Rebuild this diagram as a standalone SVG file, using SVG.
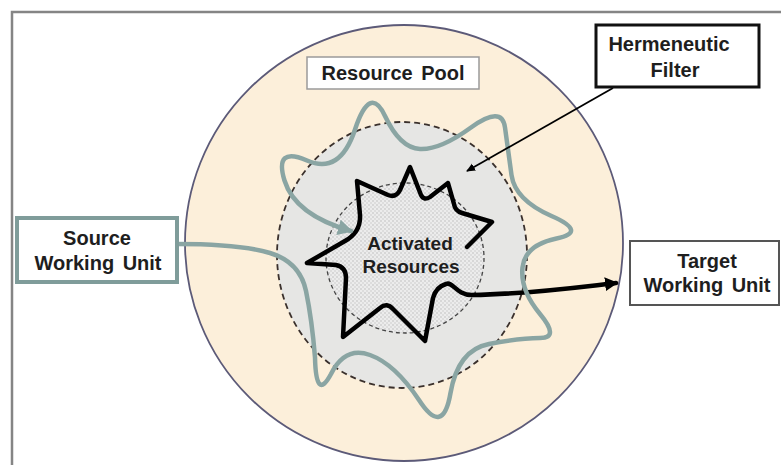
<svg xmlns="http://www.w3.org/2000/svg" width="781" height="465" viewBox="0 0 781 465">
  <defs>
    <pattern id="dots" width="4" height="4" patternUnits="userSpaceOnUse">
      <rect width="4" height="4" fill="#ececec"/>
      <circle cx="1" cy="1" r="0.7" fill="#b4b4b4"/>
      <circle cx="3" cy="3" r="0.7" fill="#c4c4c4"/>
    </pattern>
    <marker id="grayHead" markerWidth="18" markerHeight="16" refX="13" refY="8" orient="auto" markerUnits="userSpaceOnUse">
      <path d="M0,0 L15,8 L0,16 Z" fill="#8aa5a3"/>
    </marker>
    <marker id="blackHead" markerWidth="14" markerHeight="14" refX="11" refY="7" orient="auto" markerUnits="userSpaceOnUse">
      <path d="M0,0 L13,7 L0,14 Z" fill="#000"/>
    </marker>
    <marker id="thinHead" markerWidth="10" markerHeight="10" refX="8" refY="5" orient="auto" markerUnits="userSpaceOnUse">
      <path d="M0,1 L9,5 L0,9 Z" fill="#000"/>
    </marker>
  </defs>
  <style>
    .lbl { font-family: "Liberation Sans", Arial, sans-serif; font-weight: bold; font-size: 20px; fill: #1e1e1e; text-anchor: middle; word-spacing: 3px; }
    .box { fill: #ffffff; }
  </style>

  <rect x="0" y="0" width="781" height="465" fill="#ffffff"/>
  <rect id="frame" x="12" y="12" width="800" height="470" fill="none" stroke="#858585" stroke-width="2.5"/>

  <g id="resource-pool">
    <ellipse cx="404" cy="243" rx="219" ry="218" fill="#fcefda" stroke="#5c5a78" stroke-width="1.8"/>
  </g>

  <g id="hermeneutic-region">
    <ellipse cx="402" cy="255" rx="125" ry="133" fill="#e6e6e4" stroke="#3a302c" stroke-width="1.8" stroke-dasharray="6 4"/>
  </g>

  <g id="activated-region">
    <ellipse cx="405" cy="258" rx="79" ry="75" fill="url(#dots)" stroke="#444" stroke-width="1.3" stroke-dasharray="4 3"/>
  </g>

  <g id="connectors" fill="none">
    <path id="activation-star" d="M467,247 L492,222 L462,213 Q455,211 454,204 L448,183 L430,197 Q424,201 421,195 L410,167 L400,190 Q396,198 388,195 L357,181 L360,215 Q361,232 345,241 L307,263 L336,265 Q346,267 346,278 L343,337 L380,308 Q387,302 393,309 L425,341 L433,298 Q436,287 446,284 C453,281 456,295 472,295 C530,294 580,287 616,283" stroke="#000" stroke-width="4.5" stroke-linecap="round" stroke-linejoin="round" marker-end="url(#blackHead)"/>
    <path id="filter-path" d="M177,244 Q240,244 270,253 Q300,262 306,291 Q312,320 315,357.5 Q316,402 331,374 Q345,346 370,355 Q395,364 419,400 Q443,437 450.5,393 Q458,350 489,344 Q520,338 540,338 Q560,338 540,314 Q520,290 522.5,267.5 Q525,245 556.5,238.5 Q588,232 551.5,216 Q515,200 511.5,175 Q508,150 505,127.5 Q502,105 471,127.5 Q440,150 420,149 Q400,148 385,116 Q370,84 355,129.5 Q340,175 307,160.5 Q274,146 284.5,180.5 Q295,215 351,231" stroke="#8aa5a3" stroke-width="4.5" stroke-linecap="round" stroke-linejoin="round" marker-end="url(#grayHead)"/>
    <path id="filter-pointer" d="M613,88 L467,171" stroke="#000" stroke-width="1.8" marker-end="url(#thinHead)"/>
  </g>

  <g id="activated-label">
    <text class="lbl" x="410" y="250" style="font-size:19px">Activated</text>
    <text class="lbl" x="411" y="273" style="font-size:19px">Resources</text>
  </g>

  <g id="resource-pool-label">
    <rect class="box" x="307" y="57" width="172" height="32" fill="#fffdf8" stroke="#9a9a9a" stroke-width="1.5"/>
    <text class="lbl" x="393" y="80">Resource Pool</text>
  </g>

  <g id="hermeneutic-filter">
    <rect class="box" x="596" y="25" width="163" height="62" stroke="#111" stroke-width="3"/>
    <text class="lbl" x="669" y="51">Hermeneutic</text>
    <text class="lbl" x="675" y="77">Filter</text>
  </g>

  <g id="source-working-unit">
    <rect class="box" x="17" y="218" width="160" height="64" stroke="#7f9c9a" stroke-width="4"/>
    <text class="lbl" x="97" y="245">Source</text>
    <text class="lbl" x="98" y="270">Working Unit</text>
  </g>

  <g id="target-working-unit">
    <rect class="box" x="630" y="241" width="149" height="64" stroke="#555" stroke-width="2"/>
    <text class="lbl" x="707" y="268">Target</text>
    <text class="lbl" x="707" y="292">Working Unit</text>
  </g>
</svg>
